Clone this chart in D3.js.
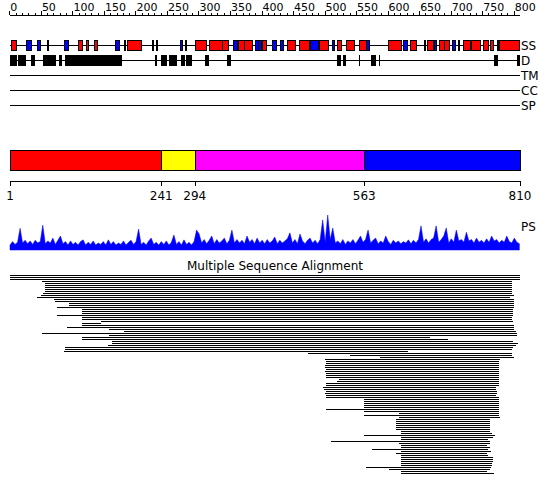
<!DOCTYPE html>
<html>
<head>
<meta charset="utf-8">
<script src="https://cdn.jsdelivr.net/npm/d3@7"></script>
<style>
  body { margin: 0; background: #fff; }
  svg { display: block; font-family: "DejaVu Sans", sans-serif; }
</style>
</head>
<body>
<div id="chart"></div>
<script>
const seqLength = 810;

// ruler ticks along the top
const rulerLabels = [0, 50, 100, 150, 200, 250, 300, 350, 400, 450, 500, 550, 600, 650, 700, 750, 800];

// secondary structure: helices (red), strands (blue), short elements (black)
const ssHelix = [[2,10],[109,115],[122,125],[135,139],[186,208],[295,312],[316,337],[338,347],
  [363,372],[372,385],[400,407],[441,453],[460,476],[491,505],[520,526],[534,547],[555,566],
  [600,620],[635,645],[663,672],[681,690],[690,698],[720,731],[733,748],[751,759],[762,766],[777,808]];
const ssStrand = [[26,34],[44,48],[86,93],[167,174],[270,273],[278,280],[355,361],[389,394],
  [395,400],[416,423],[430,434],[477,490],[512,515],[566,571],[625,631],[673,676],[702,706]];
const ssOther = [59, 182, 226, 233, 658, 712, 774];

// disordered regions
const disorder = [[1,12],[14,26],[34,40],[54,75],[79,83],[89,180],[231,234],[241,250],[254,267],
  [272,278],[280,289],[310,316],[345,351],[520,527],[529,533],[554,555],[573,581],[587,588],
  [769,775],[805,810]];

const trackNames = ["SS", "D", "TM", "CC", "SP"];

// domain boundaries
const domainStarts = [1, 241, 294, 563];
const domainEnds = [241, 294, 563, 810];
const domainColors = ["#ff0000", "#ffff00", "#ff00ff", "#0000ff"];
const boundaryLabels = [1, 241, 294, 563, 810];

// PS profile, one value every 4 residues
const psValues = [
  14,24,16,22,62,20,28,18,26,16, 28,20,24,71,18,26,20,34,16,28,
  40,18,24,14,26,16,22,14,24,29, 14,22,16,26,14,20,16,24,14,29,
  16,24,14,20,16,26,14,22,28,16, 24,60,16,22,14,26,34,16,22,14,
  24,16,26,14,22,43,16,24,14,29, 16,22,14,24,57,46,20,30,18,28,
  40,18,30,20,26,34,18,28,57,20, 30,20,28,18,40,22,30,18,34,20,
  28,18,30,20,26,37,18,28,20,26, 32,49,20,30,18,46,26,18,28,34,
  20,28,18,30,86,22,100,30,63,20, 26,18,30,16,26,20,30,18,28,40,
  22,30,57,20,28,34,18,26,20,40, 24,16,28,20,26,18,24,20,29,18,
  28,20,30,69,22,32,20,30,34,69, 22,30,40,63,20,32,22,57,26,30,
  22,51,26,30,20,34,22,28,20,32, 22,40,26,30,20,28,22,40,24,20,
  34,22,18
];

// multiple sequence alignment, one list of segments per row
const msaRows = [
  [[1,810]],[[1,810]],[[1,810]],[[52,797]],[[57,797]],
  [[57,797]],[[57,797]],[[57,797]],[[57,797]],[[54,798]],
  [[50,800]],[[44,794]],[[71,801]],[[72,801]],[[95,801]],
  [[95,800]],[[76,800]],[[115,799]],[[115,799]],[[115,799]],
  [[76,799]],[[115,798]],[[115,798]],[[146,799]],[[115,146]],
  [[115,801]],[[92,800]],[[158,801]],[[182,803]],[[52,805]],
  [[158,805]],[[115,667]],[[115,696]],[[163,799]],[[163,807]],
  [[156,803]],[[88,799]],[[89,797]],[[87,632]],[[473,797]],
  [[540,797]],[[588,801]],[[501,778]],[[503,777]],[[503,777]],
  [[501,777]],[[500,777]],[[502,777]],[[501,777]],[[502,777]],
  [[502,776]],[[502,776]],[[523,776]],[[519,776]],[[503,777]],
  [[502,777]],[[497,772]],[[499,772]],[[502,773]],[[501,773]],
  [[503,772]],[[503,777]],[[563,777]],[[563,777]],[[563,777]],
  [[563,777]],[[563,777]],[[503,777]],[[563,777]],[[618,777]],
  [[563,776]],[[618,778]],[[613,762]],[[613,762]],[[613,762]],
  [[613,762]],[[613,762]],[[613,762]],[[622,763]],[[622,765]],
  [[563,770]],[[622,767]],[[621,759]],[[510,762]],[[618,762]],
  [[622,758]],[[622,762]],[[576,760]],[[622,764]],[[613,758]],
  [[621,760]],[[622,767]],[[622,767]],[[622,767]],[[622,766]],
  [[622,766]],[[566,764]],[[602,762]],[[622,757]],[[622,769]]
];

const width = 550, height = 495;

const svg = d3.select("#chart").append("svg")
  .attr("width", width)
  .attr("height", height)
  .attr("shape-rendering", "crispEdges");

const x = d3.scaleLinear().domain([1, seqLength]).range([10, 520]);

/* Ruler */
const ruler = svg.append("g").attr("transform", "translate(0,15)");
ruler.append("line")
  .attr("x1", x(1)).attr("x2", x(seqLength))
  .attr("stroke", "black");
ruler.selectAll("line.minor")
  .data(d3.range(0, 801, 10))
  .join("line")
  .attr("class", "minor")
  .attr("x1", (d) => Math.round(x(d)) + 0.5)
  .attr("x2", (d) => Math.round(x(d)) + 0.5)
  .attr("y1", (d) => (d % 50 === 0 ? -4 : -2))
  .attr("y2", 0)
  .attr("stroke", "black");
ruler.selectAll("text")
  .data(rulerLabels)
  .join("text")
  .attr("x", (d) => x(d) + 1)
  .attr("y", -4)
  .attr("font-size", 11)
  .text((d) => d);

/* Feature tracks */
const trackY = { SS: 45, D: 60, TM: 75, CC: 90, SP: 105 };

const tracks = svg.append("g");
tracks.selectAll("line")
  .data(trackNames)
  .join("line")
  .attr("x1", x(1))
  .attr("x2", x(seqLength))
  .attr("y1", (d) => trackY[d] + 0.5)
  .attr("y2", (d) => trackY[d] + 0.5)
  .attr("stroke", "black");
tracks.selectAll("text")
  .data(trackNames)
  .join("text")
  .attr("x", x(seqLength) + 1)
  .attr("y", (d) => trackY[d] + 5)
  .attr("font-size", 12)
  .text((d) => d);

function drawBoxes(data, y, fill) {
  tracks.append("g")
    .selectAll("rect")
    .data(data)
    .join("rect")
    .attr("x", (d) => Math.round(x(d[0])) + 0.5)
    .attr("width", (d) => Math.max(1, Math.round(x(d[1]) - x(d[0]))))
    .attr("y", y - 4.5)
    .attr("height", 10)
    .attr("fill", fill)
    .attr("stroke", "black");
}

drawBoxes(ssHelix, trackY.SS, "#ff0000");
drawBoxes(ssStrand, trackY.SS, "#0000ff");

tracks.append("g")
  .selectAll("rect")
  .data(ssOther)
  .join("rect")
  .attr("x", (d) => Math.round(x(d)))
  .attr("width", 2)
  .attr("y", trackY.SS - 5)
  .attr("height", 11)
  .attr("fill", "black");

tracks.append("g")
  .selectAll("rect")
  .data(disorder)
  .join("rect")
  .attr("x", (d) => Math.round(x(d[0])))
  .attr("width", (d) => Math.max(1, Math.round(x(d[1]) - x(d[0]))))
  .attr("y", trackY.D - 5)
  .attr("height", 11)
  .attr("fill", "black");

/* Domain bar */
const domains = domainStarts.map((s, i) => ({ start: s, end: domainEnds[i], color: domainColors[i] }));
svg.append("g")
  .selectAll("rect")
  .data(domains)
  .join("rect")
  .attr("x", (d) => Math.round(x(d.start)) + 0.5)
  .attr("width", (d) => Math.round(x(d.end)) - Math.round(x(d.start)))
  .attr("y", 150.5)
  .attr("height", 20)
  .attr("fill", (d) => d.color)
  .attr("stroke", "black");

const bAxis = svg.append("g").attr("transform", "translate(0,181)");
bAxis.append("line")
  .attr("x1", x(1)).attr("x2", x(seqLength))
  .attr("y1", 0.5).attr("y2", 0.5)
  .attr("stroke", "black");
bAxis.selectAll("line.tick")
  .data(boundaryLabels)
  .join("line")
  .attr("class", "tick")
  .attr("x1", (d) => Math.round(x(d)) + 0.5)
  .attr("x2", (d) => Math.round(x(d)) + 0.5)
  .attr("y1", 0)
  .attr("y2", 5)
  .attr("stroke", "black");
bAxis.selectAll("text")
  .data(boundaryLabels)
  .join("text")
  .attr("x", (d) => x(d))
  .attr("y", 19)
  .attr("text-anchor", "middle")
  .attr("font-size", 12)
  .text((d) => d);

/* PS profile */
const psY = d3.scaleLinear().domain([0, 100]).range([250, 215]);
const psArea = d3.area()
  .x((d, i) => x(1 + i * 4))
  .y0(psY(0))
  .y1((d) => psY(d));
svg.append("path")
  .datum(psValues)
  .attr("d", psArea)
  .attr("fill", "#0000ff")
  .attr("stroke", "#0000ff")
  .attr("stroke-width", 0.5)
  .attr("shape-rendering", "auto");
svg.append("text")
  .attr("x", x(seqLength) + 1)
  .attr("y", 231)
  .attr("font-size", 12)
  .text("PS");

/* Multiple sequence alignment */
svg.append("text")
  .attr("x", 275)
  .attr("y", 270)
  .attr("text-anchor", "middle")
  .attr("font-size", 12)
  .text("Multiple Sequence Alignment");

const segments = msaRows.flatMap((row, i) => row.map((s) => ({ row: i, start: s[0], end: s[1] })));
const rowY = d3.scaleLinear().domain([0, 1]).range([275, 277]);
svg.append("g")
  .selectAll("rect")
  .data(segments)
  .join("rect")
  .attr("x", (d) => Math.round(x(d.start)))
  .attr("width", (d) => Math.round(x(d.end)) - Math.round(x(d.start)))
  .attr("y", (d) => rowY(d.row))
  .attr("height", 1)
  .attr("fill", "black");
</script>
</body>
</html>
